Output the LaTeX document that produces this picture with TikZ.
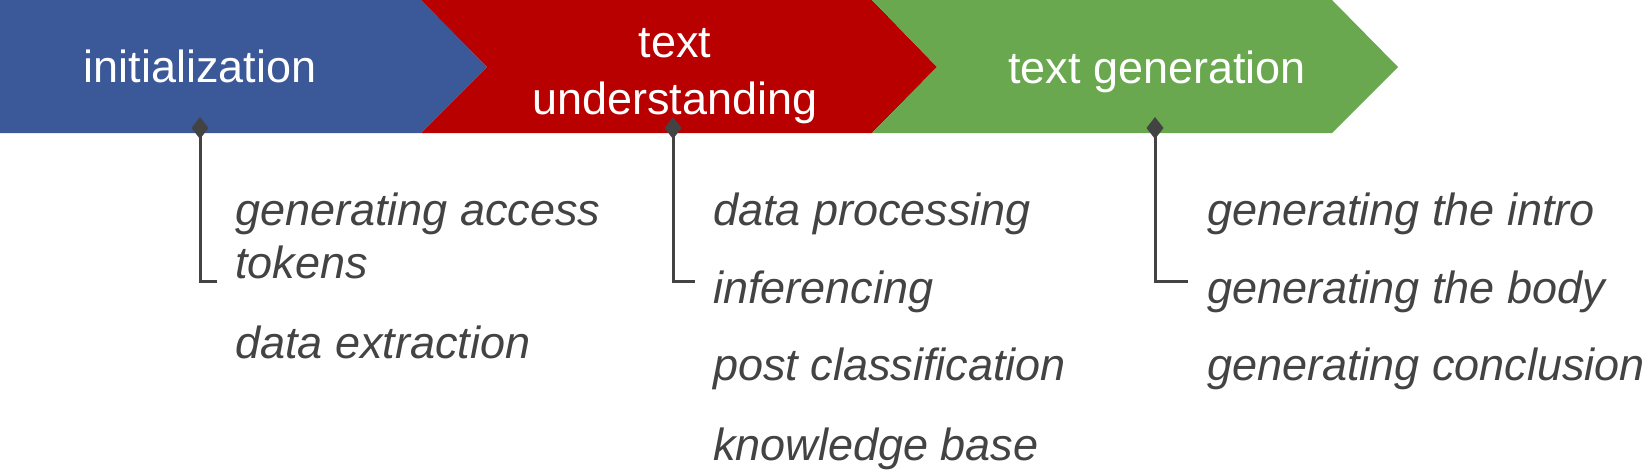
\documentclass[tikz,border=0pt]{standalone}
\usepackage{fontspec}
\setmainfont{Liberation Sans}
\definecolor{cblue}{HTML}{3B5998}
\definecolor{cred}{HTML}{B80000}
\definecolor{cgreen}{HTML}{6AA84F}
\definecolor{cgray}{HTML}{434343}
\tikzset{
  head/.style={text=white, inner sep=0pt, align=center, font=\fontsize{45}{57}\selectfont, anchor=base},
  item/.style={text=cgray, inner sep=0pt, align=left, font=\fontsize{45}{53}\selectfont\itshape, anchor=base west},
  conn/.style={draw=cgray, line width=3pt},
  dmd/.style={fill=cgray},
}
\begin{document}
\begin{tikzpicture}[x=1pt,y=-1pt]
\useasboundingbox (0,0) rectangle (1650,475);
% chevrons
\fill[cblue] (0,0) -- (421,0) -- (487,67) -- (421,133) -- (0,133) -- cycle;
\fill[cred] (421,0) -- (872,0) -- (937,67) -- (872,133) -- (421,133) -- (487,67) -- cycle;
\fill[cgreen] (872,0) -- (1332,0) -- (1398,67) -- (1332,133) -- (872,133) -- (937,67) -- cycle;
% headers
\node[head] (h1) at (200,82) {initialization};
\node[head] (h2) at (675,114) {text\\understanding};
\node[head] (h3) at (1157,83) {text generation};
% connectors
\coordinate (s1) at (200,128);
\coordinate (e1) at (217,281);
\coordinate (s2) at (673,128);
\coordinate (e2) at (695,281);
\coordinate (s3) at (1155,128);
\coordinate (e3) at (1188,281);
\draw[conn] (s1) |- (e1);
\draw[conn] (s2) |- (e2);
\draw[conn] (s3) |- (e3);
\fill[dmd] (s1) ++(0,-11) -- ++(8.5,11) -- ++(-8.5,11) -- ++(-8.5,-11) -- cycle;
\fill[dmd] (s2) ++(0,-11) -- ++(8.5,11) -- ++(-8.5,11) -- ++(-8.5,-11) -- cycle;
\fill[dmd] (s3) ++(0,-11) -- ++(8.5,11) -- ++(-8.5,11) -- ++(-8.5,-11) -- cycle;
% items
\node[item] (a1) at (235,278) {generating access\\tokens};
\node[item] (a2) at (235,358) {data extraction};
\node[item] (b1) at (713,225) {data processing};
\node[item] (b2) at (713,303) {inferencing};
\node[item] (b3) at (713,380) {post classification};
\node[item] (b4) at (713,460) {knowledge base};
\node[item] (c1) at (1207,225) {generating the intro};
\node[item] (c2) at (1207,303) {generating the body};
\node[item] (c3) at (1207,380) {generating conclusion};
\end{tikzpicture}
\end{document}
